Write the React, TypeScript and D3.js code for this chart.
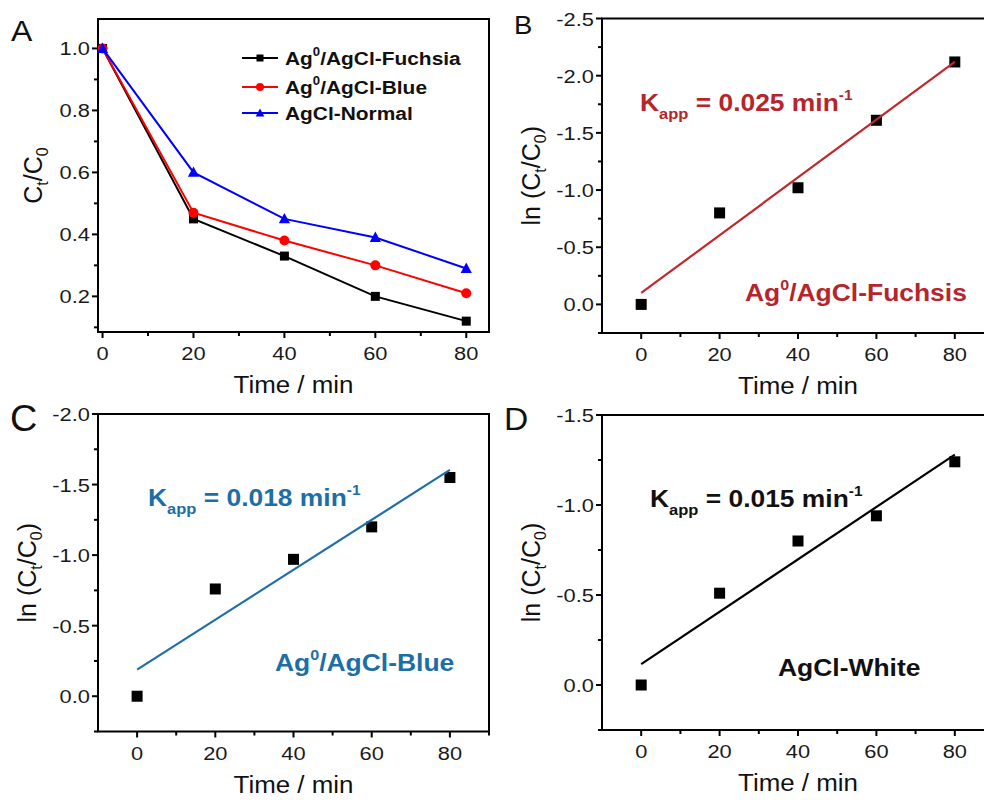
import React from 'react';
import * as d3 from 'd3';

// sampling times (min)
const timeMin = [0, 20, 40, 60, 80];

// panel A: Ct/C0
const fuchsiaRatio = [1.0, 0.45, 0.33, 0.2, 0.12];
const blueRatio = [1.0, 0.47, 0.38, 0.3, 0.21];
const normalRatio = [1.0, 0.6, 0.45, 0.39, 0.29];
const legendNames = ['/AgCl-Fuchsia', '/AgCl-Blue', 'AgCl-Normal'];

// panels B-D: ln(Ct/C0)
const fuchsiaLn = [0, -0.8, -1.02, -1.61, -2.12];
const blueLn = [0, -0.76, -0.97, -1.2, -1.55];
const whiteLn = [0, -0.51, -0.8, -0.94, -1.24];
const kappValues = ['0.025', '0.018', '0.015'];
const sampleNames = ['/AgCl-Fuchsis', '/AgCl-Blue', 'AgCl-White'];

const font = "'Liberation Sans', Arial, Helvetica, sans-serif";

type Box = { left: number; right: number; top: number; bottom: number };

// the source figure is a bit stretched sideways, so text gets a horizontal scale
function SText({ x, y, sx = 1, children, ...rest }: any) {
  return (
    <g transform={`translate(${x},${y}) scale(${sx},1)`}>
      <text x={0} y={0} fontFamily={font} {...rest}>{children}</text>
    </g>
  );
}

function fitLine(xs: number[], ys: number[]) {
  const mx = d3.mean(xs)!;
  const my = d3.mean(ys)!;
  const sxy = d3.sum(xs, (x, i) => (x - mx) * (ys[i] - my));
  const sxx = d3.sum(xs, x => (x - mx) * (x - mx));
  const slope = sxy / sxx;
  return { slope, intercept: my - slope * mx };
}

function Axes({ box, x, y, yMajor, yMinor, xMajor, xMinor, yTitle }: any) {
  const fmtY = (v: number) => (Math.abs(v) < 1e-9 ? '0.0' : v.toFixed(1));
  return (
    <g>
      <rect x={box.left} y={box.top} width={box.right - box.left} height={box.bottom - box.top}
        fill="none" stroke="#000" strokeWidth={2} />
      {xMajor.map((t: number) => (
        <g key={'xM' + t}>
          <line x1={x(t)} x2={x(t)} y1={box.bottom} y2={box.bottom + 6} stroke="#000" strokeWidth={2} />
          <SText x={x(t)} y={box.bottom + 28} sx={1.15} textAnchor="middle" fontSize={19} fill="#1a1a1a">{t}</SText>
        </g>
      ))}
      {xMinor.map((t: number) => (
        <line key={'xm' + t} x1={x(t)} x2={x(t)} y1={box.bottom} y2={box.bottom + 4} stroke="#000" strokeWidth={2} />
      ))}
      {yMajor.map((v: number) => (
        <g key={'yM' + v}>
          <line x1={box.left - 6} x2={box.left} y1={y(v)} y2={y(v)} stroke="#000" strokeWidth={2} />
          <SText x={box.left - 8} y={y(v) + 7} sx={1.15} textAnchor="end" fontSize={19} fill="#1a1a1a">{fmtY(v)}</SText>
        </g>
      ))}
      {yMinor.map((v: number) => (
        <line key={'ym' + v} x1={box.left - 4} x2={box.left} y1={y(v)} y2={y(v)} stroke="#000" strokeWidth={2} />
      ))}
      <SText x={(box.left + box.right) / 2} y={box.bottom + 61} sx={1.08} textAnchor="middle" fontSize={24} fill="#111">
        Time / min
      </SText>
      {yTitle}
    </g>
  );
}

function LnTitle({ x, y }: { x: number; y: number }) {
  return (
    <text transform={`translate(${x},${y}) rotate(-90)`} textAnchor="middle" fontSize={25} fill="#111" fontFamily={font}>
      ln (C<tspan dy={6} fontSize={16}>t</tspan><tspan dy={-6}>/C</tspan><tspan dy={6} fontSize={16}>0</tspan><tspan dy={-6}>)</tspan>
    </text>
  );
}

function Kapp({ x, y, value, color }: { x: number; y: number; value: string; color: string }) {
  return (
    <SText x={x} y={y} sx={1.1} fontSize={24} fontWeight="bold" fill={color}>
      K<tspan dy={8} fontSize={15}>app</tspan><tspan dy={-8}> = {value} min</tspan><tspan dy={-11} fontSize={14}>-1</tspan>
    </SText>
  );
}

function Sample({ x, y, name, color, ag0 }: { x: number; y: number; name: string; color: string; ag0: boolean }) {
  return (
    <SText x={x} y={y} sx={1.15} fontSize={23} fontWeight="bold" fill={color}>
      {ag0 ? (
        <>
          Ag<tspan dy={-11} fontSize={14}>0</tspan><tspan dy={11}>{name}</tspan>
        </>
      ) : name}
    </SText>
  );
}

function KineticPanel({ box, yDomain, yMajor, yMinor, values, kapp, name, ag0, color, textColor, kappPos, namePos }: any) {
  const x = d3.scaleLinear().domain([-10, 90]).range([box.left, box.right]);
  const y = d3.scaleLinear().domain(yDomain).range([box.bottom, box.top]);
  const fit = fitLine(timeMin, values);
  const t0 = 0;
  const t1 = 80;
  return (
    <g>
      <Axes box={box} x={x} y={y} yMajor={yMajor} yMinor={yMinor}
        xMajor={[0, 20, 40, 60, 80]} xMinor={[10, 30, 50, 70, 90]}
        yTitle={<LnTitle x={box.left - 62} y={(box.top + box.bottom) / 2} />} />
      {timeMin.map((t, i) => (
        <rect key={t} x={x(t) - 5.5} y={y(values[i]) - 5.5} width={11} height={11} fill="#000" />
      ))}
      <line x1={x(t0)} y1={y(fit.intercept + fit.slope * t0)} x2={x(t1)} y2={y(fit.intercept + fit.slope * t1)}
        stroke={color} strokeWidth={2.2} />
      <Kapp x={kappPos[0]} y={kappPos[1]} value={kapp} color={textColor} />
      <Sample x={namePos[0]} y={namePos[1]} name={name} color={textColor} ag0={ag0} />
    </g>
  );
}

function RatioPanel() {
  const box: Box = { left: 98, right: 489, top: 19, bottom: 332 };
  const x = d3.scaleLinear().domain([-1, 85]).range([box.left, box.right]);
  const y = d3.scaleLinear().domain([0.085, 1.095]).range([box.bottom, box.top]);
  const line = d3.line<number>().x((_, i) => x(timeMin[i])).y(v => y(v));
  const series = [
    { values: fuchsiaRatio, color: '#000000', marker: 'square' },
    { values: blueRatio, color: '#ff0000', marker: 'circle' },
    { values: normalRatio, color: '#0000ff', marker: 'triangle' },
  ];
  const marker = (kind: string, cx: number, cy: number, color: string, s: number) => {
    if (kind === 'square') return <rect x={cx - s / 2} y={cy - s / 2} width={s} height={s} fill={color} />;
    if (kind === 'circle') return <circle cx={cx} cy={cy} r={s / 2 + 0.5} fill={color} />;
    const h = s * 1.1;
    return <path d={`M${cx},${cy - h * 0.6}L${cx + s * 0.62},${cy + h * 0.45}L${cx - s * 0.62},${cy + h * 0.45}Z`} fill={color} />;
  };
  const yMajor = [0.2, 0.4, 0.6, 0.8, 1.0];
  const yMinor = [0.1, 0.3, 0.5, 0.7, 0.9];
  return (
    <g>
      <Axes box={box} x={x} y={y} yMajor={yMajor} yMinor={yMinor}
        xMajor={[0, 20, 40, 60, 80]} xMinor={[10, 30, 50, 70]}
        yTitle={
          <text transform={`translate(42,${(box.top + box.bottom) / 2}) rotate(-90)`} textAnchor="middle"
            fontSize={25} fill="#111" fontFamily={font}>
            C<tspan dy={6} fontSize={16}>t</tspan><tspan dy={-6}>/C</tspan><tspan dy={6} fontSize={16}>0</tspan>
          </text>
        } />
      {series.map(s => (
        <g key={s.color}>
          <path d={line(s.values) || ''} fill="none" stroke={s.color} strokeWidth={2} />
          {s.values.map((v, i) => <g key={i}>{marker(s.marker, x(timeMin[i]), y(v), s.color, 9)}</g>)}
        </g>
      ))}
      {series.map((s, i) => {
        const ly = [58, 87, 113][i];
        return (
          <g key={'lg' + i}>
            <line x1={242} x2={278} y1={ly} y2={ly} stroke={s.color} strokeWidth={2} />
            {marker(s.marker, 260, ly, s.color, 7)}
            <SText x={285} y={ly + 6.5} sx={1.1} fontSize={19} fontWeight="bold" fill="#111">
              {i < 2 ? (
                <>Ag<tspan dy={-9} fontSize={12}>0</tspan><tspan dy={9}>{legendNames[i]}</tspan></>
              ) : legendNames[i]}
            </SText>
          </g>
        );
      })}
    </g>
  );
}

export default function App() {
  return (
    <svg width={984} height={800} style={{ position: 'absolute', left: 0, top: 0, background: '#fff' }}>
      <rect width={984} height={800} fill="#fff" />
      <RatioPanel />
      <KineticPanel box={{ left: 602, right: 994, top: 18.5, bottom: 333 }}
        yDomain={[0.25, -2.5]} yMajor={[0, -0.5, -1.0, -1.5, -2.0, -2.5]} yMinor={[0.25, -0.25, -0.75, -1.25, -1.75, -2.25]}
        values={fuchsiaLn} kapp={kappValues[0]} name={sampleNames[0]} ag0={true}
        color="#c0282d" textColor="#b5252b" kappPos={[640, 111]} namePos={[745, 301]} />
      <KineticPanel box={{ left: 98, right: 489, top: 414, bottom: 731.5 }}
        yDomain={[0.25, -2.0]} yMajor={[0, -0.5, -1.0, -1.5, -2.0]} yMinor={[0.25, -0.25, -0.75, -1.25, -1.75]}
        values={blueLn} kapp={kappValues[1]} name={sampleNames[1]} ag0={true}
        color="#1f6fa6" textColor="#1d6ea6" kappPos={[148, 506]} namePos={[275, 671]} />
      <KineticPanel box={{ left: 602, right: 994, top: 415, bottom: 730 }}
        yDomain={[0.25, -1.5]} yMajor={[0, -0.5, -1.0, -1.5]} yMinor={[0.25, -0.25, -0.75, -1.25]}
        values={whiteLn} kapp={kappValues[2]} name={sampleNames[2]} ag0={false}
        color="#000" textColor="#111" kappPos={[650, 507]} namePos={[778, 676]} />
      <g fill="#111">
        <SText x={11} y={41} sx={1.1} fontSize={29}>A</SText>
        <SText x={514} y={34} sx={1.1} fontSize={25}>B</SText>
        <SText x={10} y={431} sx={1.05} fontSize={36}>C</SText>
        <SText x={504} y={430} sx={1.05} fontSize={32}>D</SText>
      </g>
    </svg>
  );
}
